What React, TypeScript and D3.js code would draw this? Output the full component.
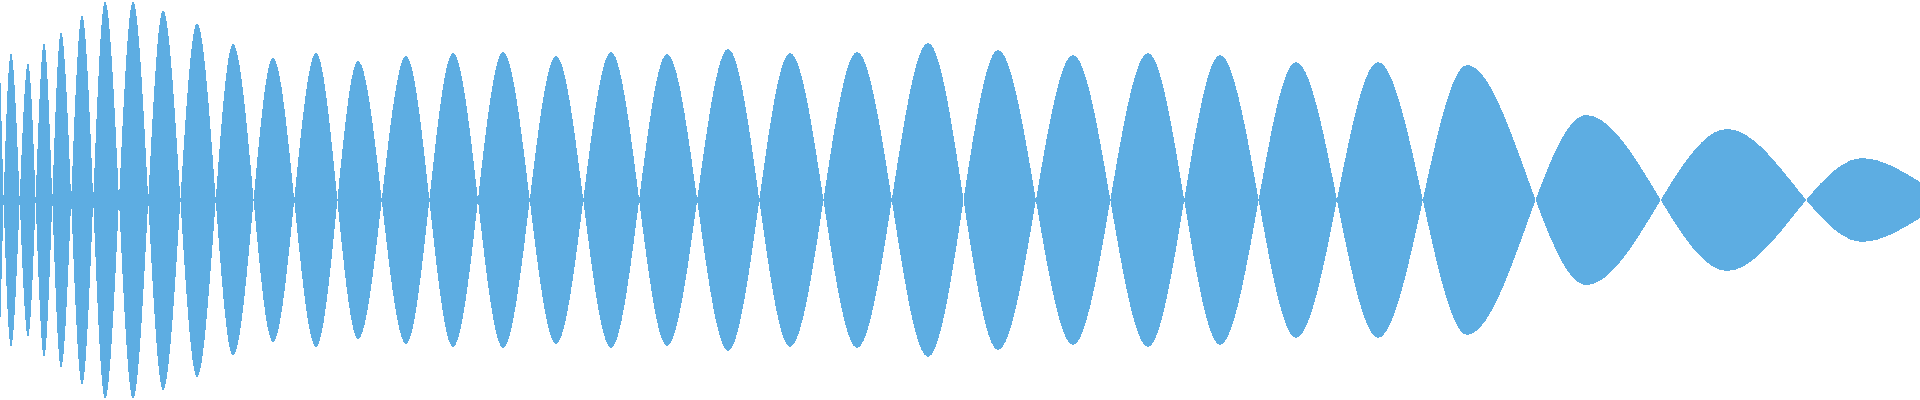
import React from "react";
import * as d3 from "d3";

// sample positions of each half-wave crest (time units = px of the 1920 wide plot)
const crestTimes: number[] = [
  0, 11, 28, 44, 61, 82, 105, 133, 163, 197, 233, 273, 316, 358, 406, 453,
  503, 556, 611, 667, 728, 790, 857, 928, 998, 1073, 1148, 1220, 1296, 1378,
  1467, 1586, 1727, 1862, 1920,
];

// signed amplitude at each crest (percent of full scale)
const crestValues: number[] = [
  68.5, -73.5, 68.5, -78.5, 84, -92.5, 99.5, -99.5, 95, -88.5, 78, -71, 73.5,
  -69.5, 72, -73.5, 74, -72, 74, -73, 75.5, -73.5, 74, -78.5, 75, -72.5, 73.5,
  -72.5, 69, -69, 67.5, -42.5, 35.5, -21, -9,
];

const width = 1920;
const height = 400;

interface Point {
  t: number;
  v: number;
}

const points: Point[] = crestTimes.map((t, i) => ({ t, v: crestValues[i] }));

const App: React.FC = () => {
  const x = d3.scaleLinear().domain([0, 1920]).range([0, width]);
  const y = d3.scaleLinear().domain([-100, 100]).range([height, 0]);

  const area = d3
    .area<Point>()
    .x((d) => x(d.t))
    .y0((d) => y(-d.v))
    .y1((d) => y(d.v))
    .curve(d3.curveMonotoneX);

  return (
    <svg
      width={width}
      height={height}
      style={{ position: "absolute", left: 0, top: 0, display: "block" }}
    >
      <path d={area(points) || ""} fill="#5dade2" shapeRendering="crispEdges" />
    </svg>
  );
};

export default App;
